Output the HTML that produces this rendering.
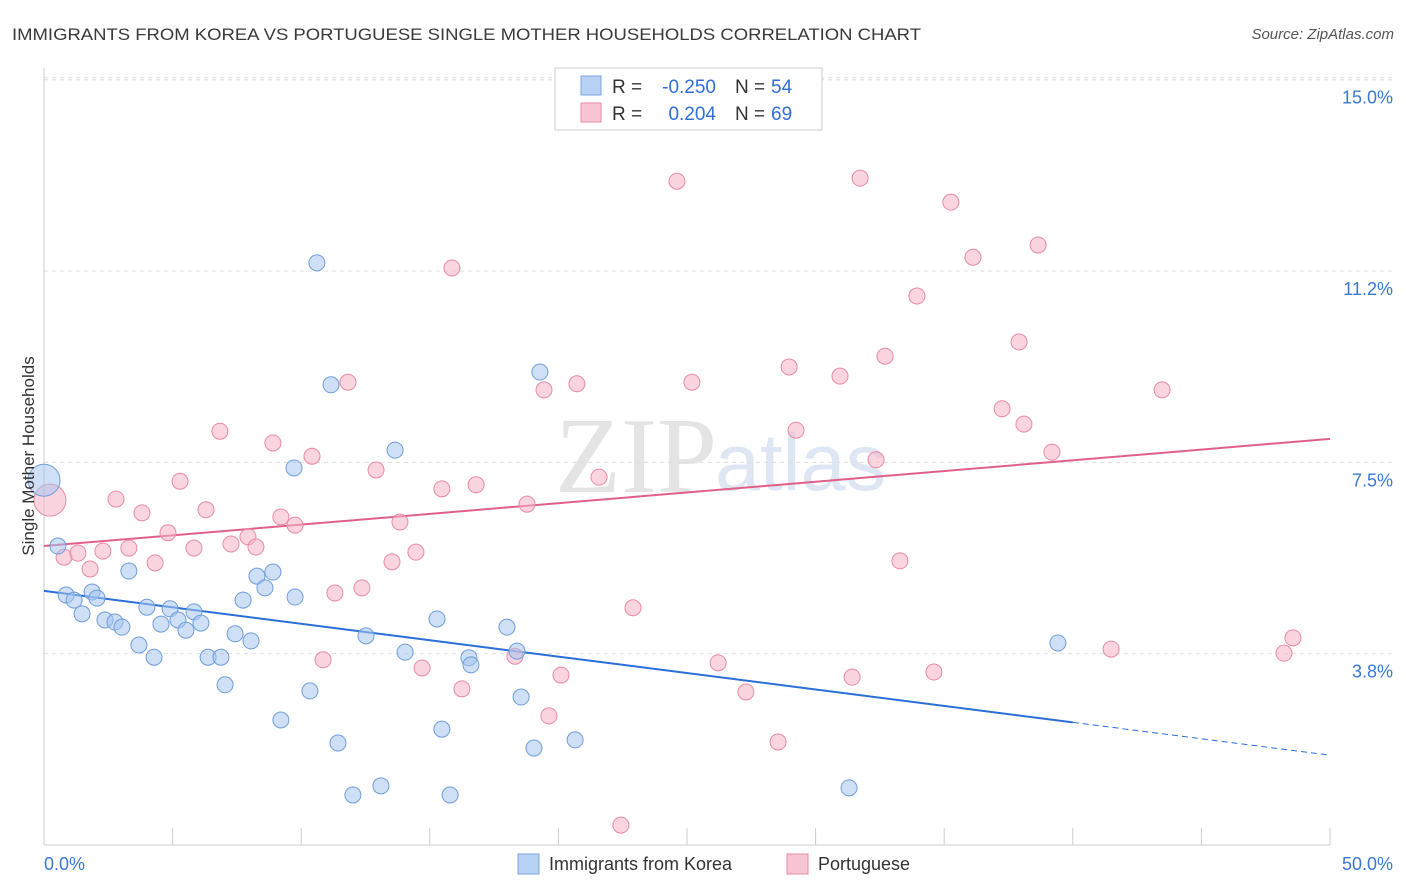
<!DOCTYPE html>
<html><head><meta charset="utf-8">
<style>
body{margin:0;background:#fff;font-family:"Liberation Sans",sans-serif;}
svg{display:block}
</style></head>
<body>
<svg id="chart" width="1406" height="892">
<text x="12" y="40" font-size="17" fill="#3a3a3a" textLength="909" lengthAdjust="spacingAndGlyphs">IMMIGRANTS FROM KOREA VS PORTUGUESE SINGLE MOTHER HOUSEHOLDS CORRELATION CHART</text>
<text x="1394" y="39" font-size="15" fill="#555" text-anchor="end" font-style="italic">Source: ZipAtlas.com</text>
<text x="555" y="492" font-size="108" fill="#e4e4e4" font-family="Liberation Serif">ZIP</text>
<text x="715" y="490" font-size="81" fill="#dde6f2">atlas</text>
<g id="grid"></g>
<g id="axes"></g>
<g id="lines"></g>
<g id="points"></g>
<text transform="translate(34,456) rotate(-90)" font-size="17" fill="#333" text-anchor="middle">Single Mother Households</text>
<g>
<rect x="555" y="68" width="267" height="62" fill="#fff" stroke="#ccc"/>
<rect x="581" y="76" width="20" height="19" fill="#b7d2f4" stroke="#7aa6e0"/>
<rect x="581" y="103" width="20" height="19" fill="#f8c5d3" stroke="#e88aa5"/>
<text x="612" y="93" font-size="19" fill="#333">R =</text>
<text x="716" y="93" font-size="19" fill="#2f6fd6" text-anchor="end">-0.250</text>
<text x="735" y="93" font-size="19" fill="#333">N =</text>
<text x="771" y="93" font-size="19" fill="#2f6fd6">54</text>
<text x="612" y="120" font-size="19" fill="#333">R =</text>
<text x="716" y="120" font-size="19" fill="#2f6fd6" text-anchor="end">0.204</text>
<text x="735" y="120" font-size="19" fill="#333">N =</text>
<text x="771" y="120" font-size="19" fill="#2f6fd6">69</text>
</g>
<g>
<rect x="518" y="854" width="21" height="20" fill="#b7d2f4" stroke="#7aa6e0"/>
<text x="549" y="870" font-size="18" fill="#333">Immigrants from Korea</text>
<rect x="787" y="854" width="21" height="20" fill="#f8c5d3" stroke="#e88aa5"/>
<text x="818" y="870" font-size="18" fill="#333">Portuguese</text>
</g>
</svg>
<script>
const yTicks=[3.75,7.5,11.25,15];
const yTickLabels=["3.8%","7.5%","11.2%","15.0%"];
const xTicks=[0,5,10,15,20,25,30,35,40,45,50];
const koreaX=[0.0,0.54,0.86,1.17,1.48,1.87,2.06,2.37,2.76,3.03,3.30,3.69,4.00,4.28,4.55,4.90,5.21,5.52,5.83,6.10,6.38,6.88,7.04,7.43,7.74,8.05,8.28,8.59,8.90,9.21,9.72,9.76,10.34,10.61,11.16,11.43,12.01,12.52,13.10,13.65,14.04,15.28,15.47,15.79,16.52,16.60,18.00,18.39,18.55,19.05,19.28,20.65,31.30,39.42];
const koreaY=[7.15,5.86,4.90,4.80,4.53,4.96,4.84,4.41,4.37,4.27,5.37,3.92,4.66,3.68,4.33,4.63,4.41,4.21,4.57,4.35,3.68,3.68,3.14,4.14,4.80,4.00,5.27,5.04,5.35,2.45,7.39,4.86,3.02,11.41,9.02,2.00,0.98,4.10,1.16,7.74,3.78,4.43,2.27,0.98,3.67,3.53,4.27,3.80,2.90,1.90,9.27,2.06,1.12,3.96];
const portX=[0.23,0.78,1.32,1.79,2.29,2.80,3.30,3.81,4.32,4.82,5.29,5.83,6.30,6.84,7.27,7.93,8.24,8.90,9.21,9.76,10.42,10.85,11.31,11.82,12.36,12.91,13.53,13.84,14.46,14.70,15.47,15.86,16.25,16.80,18.31,18.78,19.44,19.63,20.10,20.72,21.58,22.43,22.90,24.61,25.19,26.21,27.29,28.54,28.97,29.24,30.95,31.42,31.73,32.35,32.70,33.28,33.94,34.60,35.26,36.12,37.25,37.91,38.10,38.65,39.19,41.49,43.47,48.21,48.56];
const portY=[6.76,5.64,5.72,5.41,5.76,6.78,5.82,6.51,5.53,6.12,7.13,5.82,6.57,8.11,5.90,6.04,5.84,7.88,6.43,6.27,7.62,3.63,4.94,9.07,5.04,7.35,5.55,6.33,5.74,3.47,6.98,11.31,3.06,7.06,3.70,6.68,8.92,2.53,3.33,9.04,7.21,0.39,4.65,13.01,9.07,3.57,3.00,2.02,9.37,8.13,9.19,3.29,13.07,7.55,9.58,5.57,10.76,3.39,12.60,11.52,8.55,9.86,8.25,11.76,7.70,3.84,8.92,3.76,4.06];
const koreaTrend=[4.98,1.76];
const portTrend=[5.86,7.96];
const NS="http://www.w3.org/2000/svg";
const X=v=>44+v*25.72;
const Y=v=>845-v*51.02;
function mk(tag,attrs,parent){const e=document.createElementNS(NS,tag);for(const k in attrs)e.setAttribute(k,attrs[k]);document.getElementById(parent).appendChild(e);return e;}
mk('line',{x1:44,x2:1394,y1:Y(15)-2,y2:Y(15)-2,stroke:'#ddd','stroke-dasharray':'4,4'},'grid');
yTicks.forEach((t,i)=>{
 const l=mk('line',{x1:44,x2:1394,y1:Y(t),y2:Y(t),stroke:'#ddd','stroke-dasharray':'4,4'},'grid');
 
 
 const tx=mk('text',{x:1393,y:Y(t)+24,'font-size':18,fill:'#3a78d4','text-anchor':'end'},'axes');
 tx.textContent=yTickLabels[i];
 
 
});
mk('line',{x1:44,x2:44,y1:68,y2:845,stroke:'#ccc'},'axes');
mk('line',{x1:44,x2:1330,y1:845,y2:845,stroke:'#ccc'},'axes');
xTicks.forEach(t=>{
 const l=mk('line',{x1:X(t),x2:X(t),y1:828,y2:845,stroke:'#ccc'},'axes');
 
 
});
const x0=mk('text',{x:44,y:870,'font-size':18,fill:'#3a78d4'},'axes');x0.textContent='0.0%';


const x1=mk('text',{x:1393,y:870,'font-size':18,fill:'#3a78d4','text-anchor':'end'},'axes');x1.textContent='50.0%';


function pts(xs,ys,fill,stroke,name){
 xs.forEach((v,i)=>{
  const big=i===0;
  const c=mk('circle',{cx:X(v),cy:Y(ys[i]),r:big?16:8,fill:fill,'fill-opacity':0.55,stroke:stroke,'stroke-width':1},'points');
  
  
 });
}
pts(portX,portY,'#f5b3c6','#e88aa5','portuguese-point');
pts(koreaX,koreaY,'#a5c5ef','#6f9edb','korea-point');
const kAt=x=>koreaTrend[0]+(koreaTrend[1]-koreaTrend[0])*x/50;
const pAt=x=>portTrend[0]+(portTrend[1]-portTrend[0])*x/50;
const kl=mk('line',{x1:X(0),y1:Y(kAt(0)),x2:X(40),y2:Y(kAt(40)),stroke:'#2a6fd8','stroke-width':2},'lines');


const kd=mk('line',{x1:X(40),y1:Y(kAt(40)),x2:X(50),y2:Y(kAt(50)),stroke:'#2a6fd8','stroke-width':1,'stroke-dasharray':'6,4'},'lines');


const pl=mk('line',{x1:X(0),y1:Y(pAt(0)),x2:X(50),y2:Y(pAt(50)),stroke:'#e0608a','stroke-width':2},'lines');


</script>
</body></html>
